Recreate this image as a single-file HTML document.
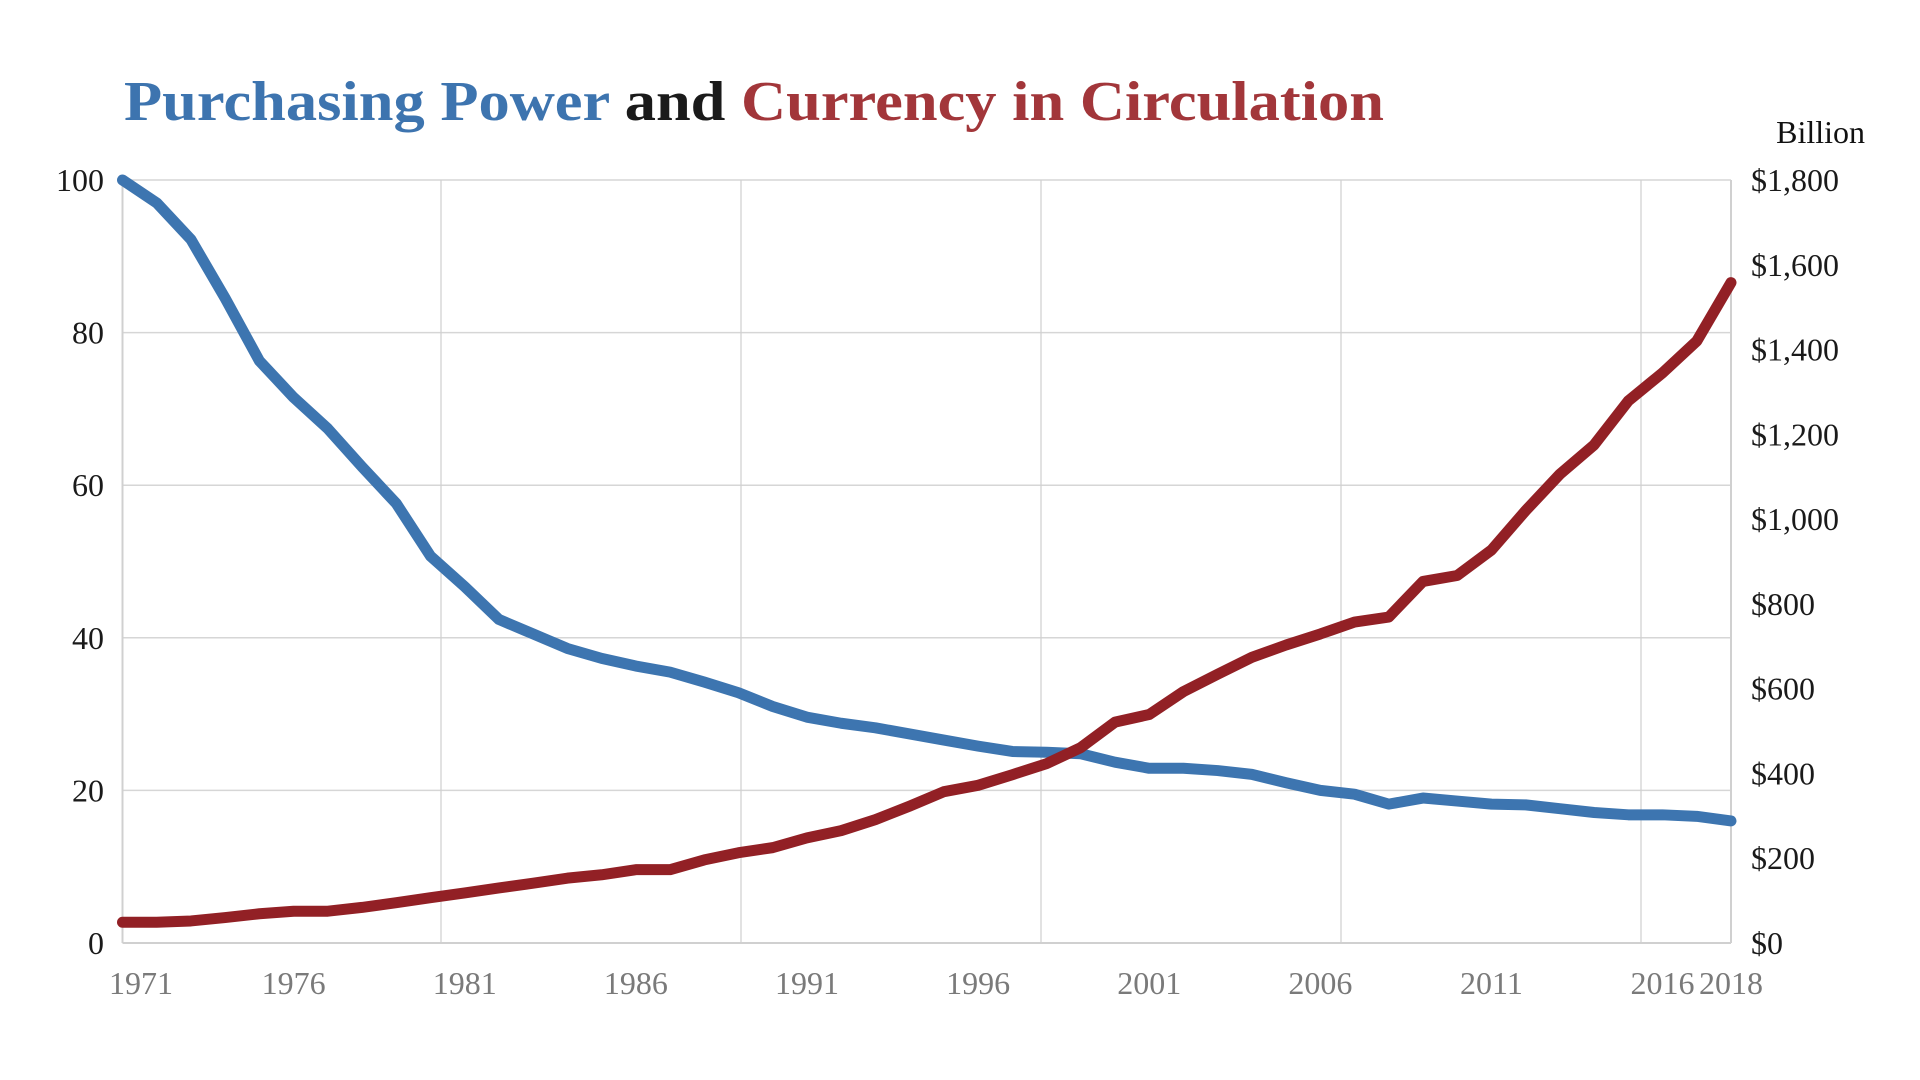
<!DOCTYPE html>
<html><head><meta charset="utf-8"><style>
html,body{margin:0;padding:0;background:#fff;width:1920px;height:1080px;overflow:hidden}
svg{display:block;font-family:"Liberation Serif",serif}
</style></head><body>
<svg id="chart" width="1920" height="1080">
<text x="124" y="120" font-size="56" font-weight="bold" textLength="1260" lengthAdjust="spacingAndGlyphs"><tspan fill="#3d74af">Purchasing Power</tspan><tspan fill="#1a1a1a"> and </tspan><tspan fill="#a2363a">Currency in Circulation</tspan></text>
<text x="1865" y="143" font-size="32" text-anchor="end" fill="#111">Billion</text>
<g id="grid"></g><g id="axes"></g><g id="lines"></g>
</svg>
<script>
const years = [];
for (let y = 1971; y <= 2018; y++) years.push(y);
const purchasingPower = [100,97.0,92.2,84.5,76.3,71.5,67.4,62.4,57.6,50.7,46.7,42.4,40.5,38.6,37.3,36.3,35.5,34.2,32.8,31.0,29.6,28.8,28.2,27.4,26.6,25.8,25.1,25.0,24.8,23.7,22.9,22.9,22.6,22.1,21.0,20.0,19.5,18.2,19.0,18.6,18.2,18.1,17.6,17.1,16.8,16.8,16.6,16.0];
const currency = [49,49,52,60,69,75,75,84,95,107,118,130,141,153,161,173,173,196,213,225,248,265,291,323,357,372,397,423,461,521,539,593,634,674,703,729,757,769,853,867,927,1020,1106,1175,1279,1345,1420,1558];
const leftTicks = [0,20,40,60,80,100];
const rightTicks = [0,200,400,600,800,1000,1200,1400,1600,1800];
const xLabels = [1971,1976,1981,1986,1991,1996,2001,2006,2011,2016,2018];

const L=122.5,R=1731,T=180,B=943;
const NS="http://www.w3.org/2000/svg";
const xS = yr => L + (yr-1971)/(2018-1971)*(R-L);
const yL = v => B - v/100*(B-T);
const yR = v => B - v/1800*(B-T);
function mk(tag, attrs, parent){const e=document.createElementNS(NS,tag);for(const k in attrs)e.setAttribute(k,attrs[k]);parent.appendChild(e);return e;}
const grid=document.getElementById('grid'), axes=document.getElementById('axes'), lines=document.getElementById('lines');

leftTicks.forEach(v=>{
  const ln=mk('line',{x1:L,x2:R,y1:yL(v),y2:yL(v),stroke:v===0?'#d0d0d0':'#d6d6d6','stroke-width':v===0?2:1.5},grid);
  
  
  const t=mk('text',{x:104,y:yL(v)+11,'font-size':32,'text-anchor':'end',fill:'#1a1a1a'},axes);
  t.textContent=v;
  
  
});
[441,741,1041,1341,1641].forEach(x=>{
  const ln=mk('line',{x1:x,x2:x,y1:T,y2:B,stroke:'#cfcfcf','stroke-width':1.2},grid);
  
  
});
const la=mk('line',{x1:L,x2:L,y1:T,y2:B,stroke:'#d0d0d0','stroke-width':2},grid);


const ra=mk('line',{x1:R,x2:R,y1:T,y2:B,stroke:'#d0d0d0','stroke-width':2},grid);



rightTicks.forEach(v=>{
  const t=mk('text',{x:1751,y:yR(v)+11,'font-size':32,fill:'#1a1a1a'},axes);
  t.textContent='$'+v.toLocaleString('en-US');
  
  
});
xLabels.forEach(yr=>{
  let x=xS(yr); if(yr===1971) x=141;
  const t=mk('text',{x:x,y:994,'font-size':32,'text-anchor':'middle',fill:'#7a7a7a'},axes);
  t.textContent=yr;
  
  
});

const pp=mk('polyline',{points:years.map((yr,i)=>xS(yr)+','+yL(purchasingPower[i])).join(' '),fill:'none',stroke:'#3d75b0','stroke-width':11,'stroke-linejoin':'round','stroke-linecap':'round'},lines);


const cc=mk('polyline',{points:years.map((yr,i)=>xS(yr)+','+yR(currency[i])).join(' '),fill:'none',stroke:'#922025','stroke-width':11,'stroke-linejoin':'round','stroke-linecap':'round'},lines);


</script>
</body></html>
